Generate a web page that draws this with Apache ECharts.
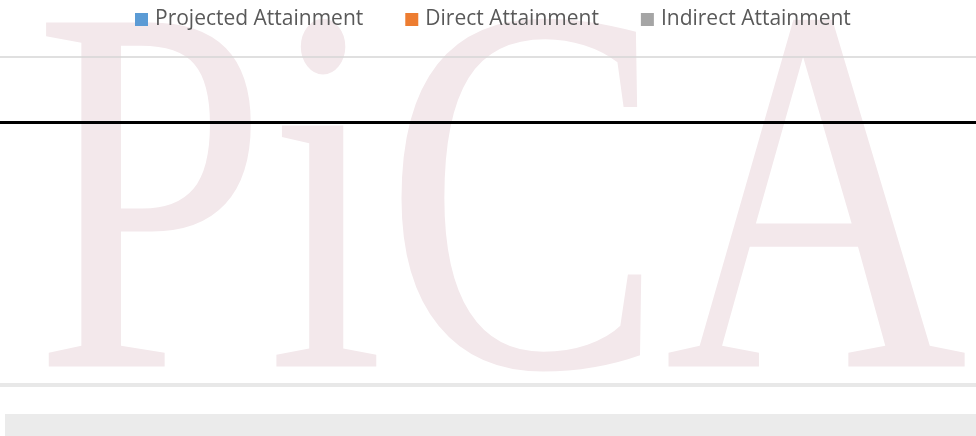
<!DOCTYPE html>
<html>
<head>
<meta charset="utf-8">
<script src="https://cdn.jsdelivr.net/npm/echarts@6/dist/echarts.min.js"></script>
<style>
  html, body { margin: 0; padding: 0; background: #fff; }
  #chart { width: 976px; height: 436px; }
</style>
</head>
<body>
<div id="chart"></div>
<script>
// nothing is plotted in the source chart: no categories, no bars
const categories = [];
const projected = [];
const direct = [];
const indirect = [];
const seriesNames = ["Projected Attainment", "Direct Attainment", "Indirect Attainment"];

const chart = echarts.init(document.getElementById("chart"));

const option = {
  animation: false,
  color: ["#5b9bd5", "#ed7d31", "#a5a5a5"],
  legend: {
    top: 9,
    left: 135,
    padding: 0,
    itemWidth: 13,
    itemHeight: 13,
    itemGap: 42,
    icon: "rect",
    textStyle: { fontFamily: "Open Sans", fontSize: 21, color: "#595959", padding: [0, 0, 0, 2] },
    data: seriesNames,
  },
  grid: { left: 0, right: 0, top: 57, bottom: 51 },
  graphic: [
    {
      type: "text",
      z: -10,
      left: 34,
      top: -34,
      scaleX: 0.8,
      style: {
        text: "PiCA",
        font: "525px 'Liberation Serif'",
        fill: "#f3e8eb",
      },
    },
    {
      type: "rect",
      z: -5,
      shape: { x: 5, y: 414, width: 971, height: 22 },
      style: { fill: "#ebebeb" },
    },
  ],
  xAxis: [
    {
      type: "category",
      data: categories,
      axisLine: { onZero: true, lineStyle: { color: "#000", width: 3 } },
      axisTick: { show: false },
      axisLabel: { show: false },
    },
    {
      type: "category",
      data: categories,
      position: "bottom",
      axisLine: { onZero: false, lineStyle: { color: "#e8e8e8", width: 4 } },
      axisTick: { show: false },
      axisLabel: { show: false },
    },
  ],
  yAxis: {
    type: "value",
    min: -4,
    max: 1,
    interval: 5,
    axisLabel: { show: false },
    axisLine: { show: false },
    splitLine: { lineStyle: { color: "#d6d6d6", width: 1.5 } },
  },
  series: [
    { name: seriesNames[0], type: "bar", data: projected },
    { name: seriesNames[1], type: "bar", data: direct },
    { name: seriesNames[2], type: "bar", data: indirect },
  ],
};

chart.setOption(option);
window.addEventListener("resize", () => chart.resize());
</script>
</body>
</html>
